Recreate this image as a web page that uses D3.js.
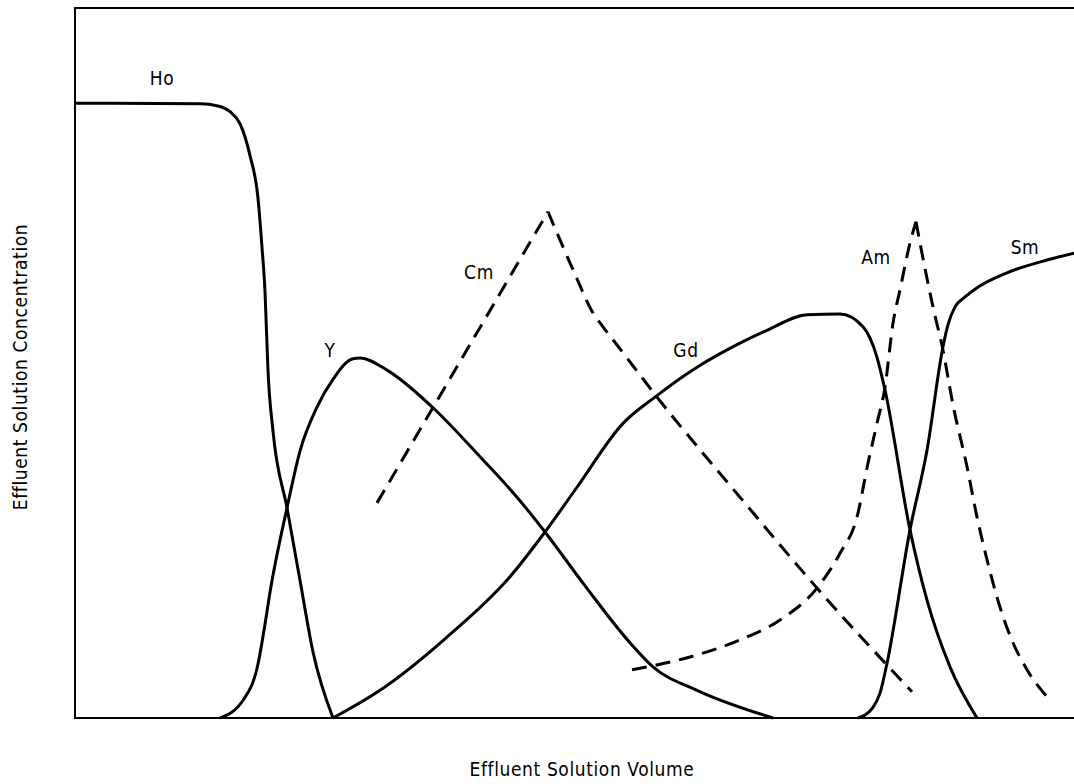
<!DOCTYPE html>
<html>
  <head>
    <meta charset="utf-8">
    <title>Elution curves</title>
    <script src="https://d3js.org/d3.v7.min.js"></script>
    <style>
      body { margin: 0; background: #fff; }
      .label {
        font: 19px "DejaVu Sans Condensed", "DejaVu Sans", sans-serif;
        letter-spacing: 0.6px;
        fill: #000;
      }
      .frame { stroke: #000; stroke-width: 2; fill: none; }
      .curve { stroke: #000; stroke-width: 3; fill: none; stroke-linejoin: round; }
      .dashed { stroke-dasharray: 15, 9; }
    </style>
  </head>
  <body>
    <svg id="chart" width="1074" height="784"></svg>
    <script>
    // volume (0-100) vs concentration (0-100)
    var ho = [[0, 86.6], [12.5, 86.5], [14.3, 86.2], [15.5, 85.4], [16.5, 83.7], [17.5, 79.2],
      [18.3, 73.2], [18.7, 66.3], [19.0, 60.1], [19.3, 48.9], [19.8, 40.4], [21.2, 29.6],
      [22.5, 19.4], [23.8, 9.3], [25.8, 0]];

    var yt = [[14.5, 0], [16.8, 2.5], [18.3, 7.6], [19.0, 13.2], [19.5, 17.7], [21.2, 29.6],
      [22.5, 37.6], [24.2, 43.8], [25.8, 47.7], [27.8, 50.6], [28.5, 50.7], [31.2, 49.0],
      [35.8, 43.7], [40.5, 36.8], [44.2, 31.1], [47.0, 26.2], [50.8, 19.0], [55.5, 10.6],
      [57.8, 7.2], [62.2, 3.9], [69.8, 0]];

    var gd = [[25.8, 0], [30.5, 3.9], [37.2, 11.4], [43.5, 19.9], [47.0, 26.2], [50.2, 32.5],
      [54.8, 41.5], [58.0, 45.2], [62.2, 49.4], [66.5, 52.8], [69.2, 54.6], [73.2, 56.8],
      [76.5, 56.9], [78.8, 55.1], [80.2, 50.8], [81.0, 46.2], [83.5, 26.5], [85.2, 16.6],
      [87.5, 7.2], [90.2, 0]];

    var sm = [[78.3, 0], [79.8, 1.5], [80.5, 3.5], [81.2, 7.7], [83.5, 26.5], [85.2, 37.7],
      [86.8, 52.3], [87.3, 55.4], [88.0, 57.9], [89.0, 59.3], [90.0, 60.4], [93.2, 62.7],
      [97.2, 64.5], [100, 65.5]];

    // dashed peaks: rising side and falling side meet at the tip
    var cmUp = [[30.2, 30.3], [47.3, 71.3]];
    var cmDown = [[47.3, 71.3], [50.0, 62.5], [51.7, 57.3], [52.8, 55.1], [54.5, 52.0],
      [58.2, 45.2], [66.5, 31.1], [74.2, 18.3], [83.7, 3.7]];

    var amUp = [[55.7, 6.8], [61.5, 8.6], [66.5, 11.0], [70.5, 13.8], [74.2, 18.3], [76.5, 23.2],
      [78.2, 28.3], [79.3, 35.9], [80.2, 41.5], [81.0, 46.6], [81.8, 55.6], [82.5, 60.3],
      [83.5, 66.9], [84.1, 69.9]];
    var amDown = [[84.1, 69.9], [84.5, 66.9], [85.8, 57.9], [86.8, 51.8], [87.8, 44.1],
      [89.2, 35.4], [90.2, 28.3], [91.2, 22.3], [92.5, 15.6], [93.8, 10.6], [95.2, 6.8],
      [97.5, 2.5]];

    var names = ["Ho", "Y", "Cm", "Gd", "Am", "Sm"];
    var namePos = [[8.7, 89.2], [25.5, 50.8], [40.4, 61.8], [61.1, 50.8], [80.1, 63.9], [95, 65.4]];

    var svg = d3.select("#chart");

    var x = d3.scaleLinear().domain([0, 100]).range([75, 1075]);
    var y = d3.scaleLinear().domain([0, 100]).range([718, 8]);

    // open frame: left, top, bottom
    svg.append("path")
      .attr("class", "frame")
      .attr("d", "M" + x(100) + "," + y(100) + "H" + x(0) + "V" + y(0) + "H" + x(100));

    var smooth = d3.line()
      .x(d => x(d[0]))
      .y(d => y(d[1]))
      .curve(d3.curveMonotoneX);

    [ho, yt, gd, sm].forEach(function(s) {
      svg.append("path").attr("class", "curve").attr("d", smooth(s));
    });

    [[cmUp, cmDown], [amUp, amDown]].forEach(function(p) {
      svg.append("path").attr("class", "curve dashed").attr("d", smooth(p[0]) + smooth(p[1]));
    });

    svg.selectAll(".name")
      .data(names)
      .enter().append("text")
      .attr("class", "label name")
      .attr("x", (d, i) => x(namePos[i][0]))
      .attr("y", (d, i) => y(namePos[i][1]))
      .attr("text-anchor", "middle")
      .text(d => d);

    svg.append("text")
      .attr("class", "label")
      .attr("x", 582)
      .attr("y", 776)
      .attr("text-anchor", "middle")
      .text("Effluent Solution Volume");

    svg.append("text")
      .attr("class", "label")
      .attr("transform", "translate(27,367)rotate(-90)")
      .attr("text-anchor", "middle")
      .text("Effluent Solution Concentration");
    </script>
  </body>
</html>
